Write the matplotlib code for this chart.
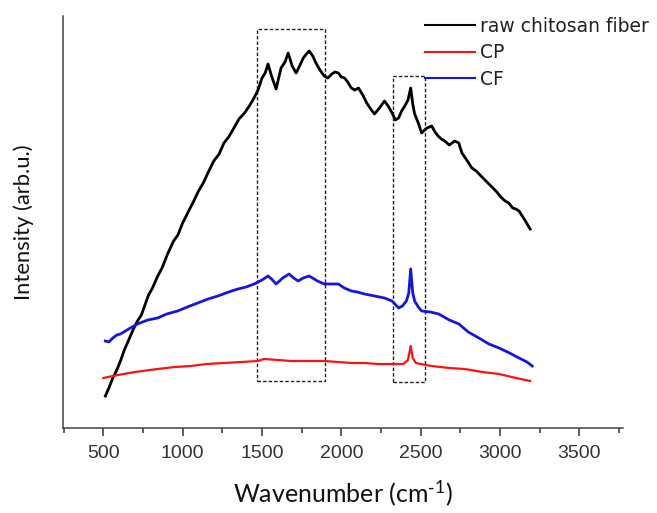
import matplotlib
matplotlib.use("Agg")
import matplotlib.pyplot as plt
from matplotlib.patches import Rectangle

# ---- data (intensity in arbitrary units) ----
raw_wn = [513, 535, 560, 585, 608, 635, 660, 690, 715, 740, 760, 785, 810, 840, 870, 905,
          943, 970, 1000, 1035, 1070, 1100, 1130, 1165, 1196, 1230, 1260, 1290, 1323, 1355,
          1390, 1420, 1450, 1475, 1500, 1520, 1538, 1560, 1589, 1605, 1620, 1645, 1665, 1690,
          1715, 1740, 1760, 1780, 1797, 1820, 1840, 1865, 1892, 1915, 1940, 1960, 1981, 2000,
          2020, 2040, 2063, 2085, 2108, 2135, 2160, 2185, 2209, 2240, 2272, 2295, 2320, 2340,
          2361, 2380, 2400, 2420, 2437, 2450, 2462, 2485, 2506, 2525, 2540, 2570, 2590, 2610,
          2630, 2652, 2680, 2715, 2740, 2760, 2790, 2823, 2850, 2880, 2905, 2930, 2955, 2980,
          3005, 3032, 3055, 3080, 3100, 3120, 3140, 3160, 3175, 3190]
raw_int = [32, 40, 50, 58, 67, 79, 88, 99, 107, 113, 122, 133, 140, 151, 160, 174,
           187, 193, 205, 216, 227, 237, 245, 257, 267, 274, 285, 291, 300, 309,
           315, 322, 330, 338, 350, 355, 364, 352, 339, 350, 360, 366, 375, 362,
           355, 363, 370, 374, 377, 372, 365, 358, 352, 350, 354, 356, 355, 351,
           350, 346, 340, 338, 340, 333, 325, 319, 314, 320, 327, 322, 315, 308,
           310, 317, 322, 328, 340, 324, 314, 305, 295, 298, 300, 302, 296, 292,
           289, 287, 283, 287, 285, 275, 268, 260, 257, 252, 248, 244, 240, 236,
           231, 227, 225, 220, 219, 217, 212, 207, 203, 199]

cf_wn = [513, 535, 560, 585, 608, 660, 715, 780, 842, 900, 968, 1030, 1095, 1160, 1222,
         1290, 1348, 1400, 1450, 1500, 1538, 1560, 1589, 1610, 1630, 1671, 1700, 1728, 1760,
         1797, 1850, 1892, 1937, 1981, 2019, 2063, 2100, 2146, 2210, 2272, 2320, 2361, 2385,
         2410, 2425, 2437, 2450, 2462, 2485, 2506, 2560, 2614, 2680, 2741, 2800, 2867, 2930,
         2994, 3060, 3120, 3170, 3203]
cf_int = [87, 86, 90, 93, 94, 99, 104, 108, 110, 114, 117, 121, 125, 129, 132,
          136, 139, 141, 144, 148, 152, 149, 144, 147, 150, 154, 150, 147, 150,
          152, 147, 144, 144, 144, 140, 137, 136, 134, 132, 130, 127, 120, 122,
          127, 135, 159, 135, 127, 121, 117, 116, 114, 108, 104, 96, 90, 84,
          80, 75, 70, 66, 62]

cp_wn = [500, 560, 627, 700, 842, 950, 1051, 1150, 1259, 1370, 1475, 1513, 1600, 1684,
         1800, 1892, 1980, 2063, 2146, 2230, 2316, 2390, 2420, 2437, 2450, 2470, 2500,
         2570, 2680, 2778, 2890, 2994, 3100, 3190]
cp_int = [50, 52, 54, 56, 59, 61, 62, 64, 65, 66, 67, 69, 68, 67,
          67, 67, 66, 65, 65, 64, 64, 64, 68, 82, 70, 65, 64,
          62, 60, 59, 56, 54, 50, 47]

# highlighted regions: (start, end) wavenumber and (bottom, top) intensity
box_wn = [(1468, 1899), (2323, 2525)]
box_int = [(47, 399), (46, 352)]

x_ticks = [500, 1000, 1500, 2000, 2500, 3000, 3500]
x_minor = [250, 750, 1250, 1750, 2250, 2750, 3250, 3750]

labels = ["raw chitosan fiber", "CP", "CF"]

# ---- figure ----
plt.rcParams["mathtext.default"] = "regular"
fig = plt.figure(figsize=(6.57, 5.13), dpi=100)
ax = fig.add_axes([63 / 657, 1 - 428 / 513, 560 / 657, 412 / 513])

l1, = ax.plot(raw_wn, raw_int, color="black", lw=2.0)
l2, = ax.plot(cp_wn, cp_int, color="#ff1010", lw=1.6)
l3, = ax.plot(cf_wn, cf_int, color="#1515e0", lw=2.0)

for (x0, x1), (y0, y1) in zip(box_wn, box_int):
    ax.add_patch(Rectangle((x0, y0), x1 - x0, y1 - y0, fill=False,
                           ec="#222222", lw=1.0, ls=(0, (2.5, 1.5))))

ax.set_xlim(246, 3775)
ax.set_ylim(0, 412)
ax.set_xticks(x_ticks)
ax.set_xticks(x_minor, minor=True)
ax.set_yticks([])
ax.tick_params(axis="x", which="major", length=6, width=1.1, direction="out",
               pad=6, colors="#333333", labelsize=14)
ax.tick_params(axis="x", which="minor", length=3.5, width=1.1, direction="out",
               colors="#333333")
for lab in ax.get_xticklabels():
    lab.set_fontfamily("Liberation Sans")

for s in ["top", "right"]:
    ax.spines[s].set_visible(False)
for s in ["left", "bottom"]:
    ax.spines[s].set_color("#444444")
    ax.spines[s].set_linewidth(1.1)

ax.set_xlabel(r"Wavenumber (cm$^{\text{-}1}$)", fontfamily="Lato", fontsize=18,
              color="#111111", labelpad=12)
ax.set_ylabel("Intensity (arb.u.)", fontfamily="Lato", fontsize=15.8, color="#111111",
              labelpad=21)

leg = ax.legend([l1, l2, l3], labels, loc="upper left",
                bbox_to_anchor=(425 / 657, 1 - 17 / 513), bbox_transform=fig.transFigure,
                frameon=False, handlelength=2.67, handletextpad=0.27, labelspacing=0.40,
                borderaxespad=0, borderpad=0,
                prop={"family": "DejaVu Sans", "size": 13.5})
for t in leg.get_texts():
    t.set_color("#222222")
for h in leg.get_lines():
    h.set_linewidth(1.5)

fig.savefig("out.png", dpi=100)
